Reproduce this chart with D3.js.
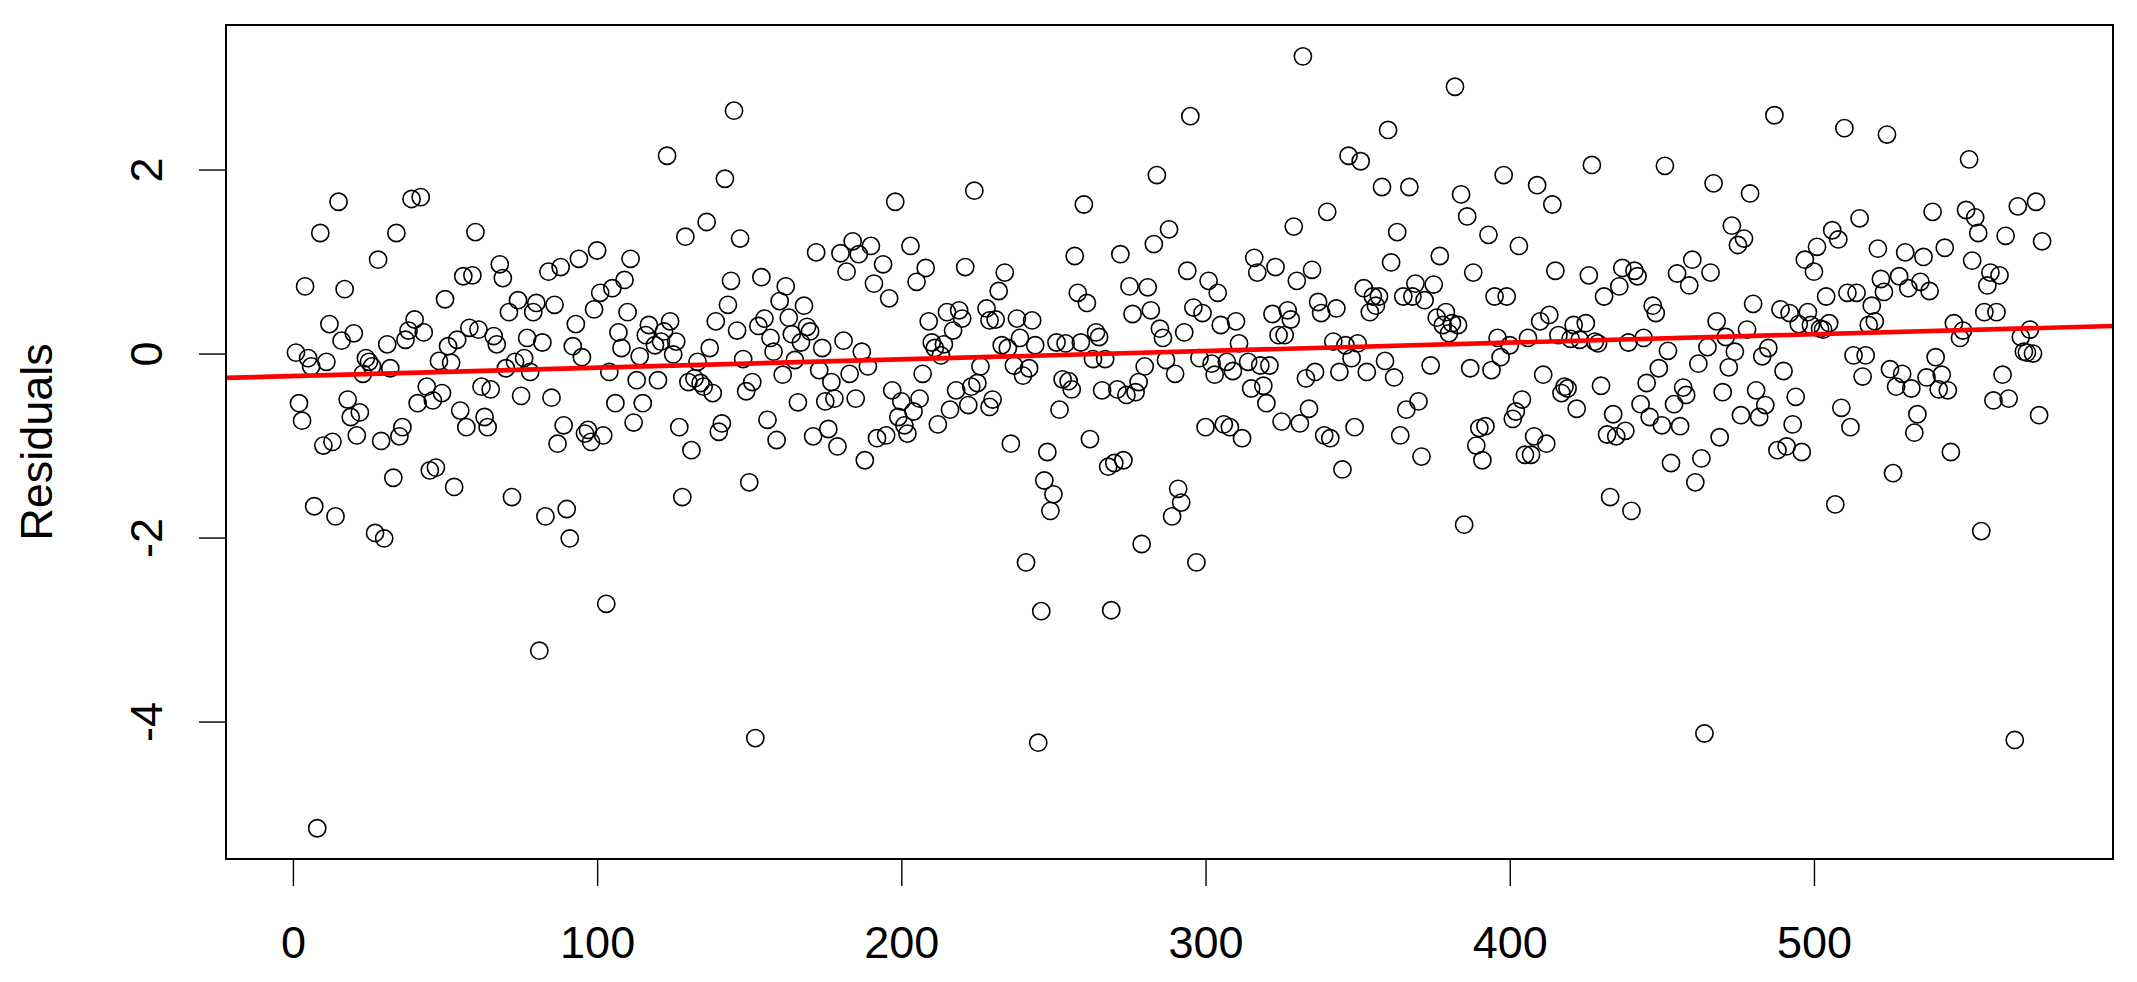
<!DOCTYPE html>
<html>
<head>
<meta charset="utf-8">
<script src="https://cdn.jsdelivr.net/npm/d3@7"></script>
<style>
  body { margin: 0; background: #fff; }
  text { font-family: "Liberation Sans", Arial, sans-serif; fill: #000; }
</style>
</head>
<body>
<div id="chart"></div>
<script>
var obsIndex = [
  1,2,3,4,5,6,7,8,9,10,11,12,13,14,15,16,17,18,19,20,
  21,22,23,24,25,26,27,28,29,30,31,32,33,34,35,36,37,38,39,40,
  41,42,43,44,45,46,47,48,49,50,51,52,53,54,55,56,57,58,59,60,
  61,62,63,64,65,66,67,68,69,70,71,72,73,74,75,76,77,78,79,80,
  81,82,83,84,85,86,87,88,89,90,91,92,93,94,95,96,97,98,99,100,
  101,102,103,104,105,106,107,108,109,110,111,112,113,114,115,116,117,119,120,121,
  122,123,124,125,126,127,128,129,130,131,132,133,134,135,136,137,138,139,140,141,
  142,143,144,145,146,147,148,149,150,151,152,153,154,155,156,157,158,159,160,161,
  162,163,164,165,166,167,168,169,170,171,172,173,174,175,176,177,178,179,180,181,
  182,183,184,185,186,187,188,189,190,191,192,194,195,196,197,198,199,200,201,202,
  203,204,205,206,207,208,209,210,211,212,213,214,215,216,217,218,219,220,221,222,
  223,224,225,226,228,229,229,230,231,232,233,234,235,236,237,238,239,240,241,242,
  243,244,245,246,247,248,249,250,251,252,253,254,255,256,257,258,259,260,261,262,
  263,264,265,266,267,268,269,270,271,272,273,274,275,276,277,278,279,280,281,282,
  283,284,285,286,287,288,289,290,291,292,293,294,295,296,297,298,299,300,301,302,
  303,304,305,306,307,308,309,310,311,312,314,315,316,317,318,319,320,321,322,323,
  324,325,326,327,328,329,330,331,332,333,334,335,336,337,338,339,340,341,342,343,
  344,345,346,347,348,349,350,351,352,353,354,355,356,357,358,359,360,361,362,363,
  364,365,366,367,368,369,370,371,372,374,375,376,377,378,379,380,381,382,383,384,
  385,386,387,388,389,390,391,392,393,394,395,396,397,398,399,400,401,402,403,404,
  405,406,407,408,409,410,411,412,413,414,415,416,417,418,419,420,421,422,423,425,
  426,427,428,429,430,431,432,433,434,435,436,437,438,439,440,441,442,443,444,445,
  446,447,448,449,450,451,452,453,454,455,456,457,458,459,460,461,462,463,464,465,
  466,467,468,469,470,471,472,473,474,475,476,477,478,479,480,481,482,483,484,485,
  487,488,489,490,491,492,493,494,495,496,497,498,499,500,501,502,503,504,505,506,
  507,508,509,510,511,512,513,514,515,516,517,518,519,520,521,522,523,524,525,526,
  527,528,529,530,531,532,533,534,535,536,537,538,539,540,541,542,543,544,545,546,
  548,549,550,551,552,553,554,555,556,557,558,559,560,561,562,563,564,566,567,568,
  569,570,571,572,573,574,575
];
var residuals = [
  0.01,-0.54,-0.73,0.73,-0.05,-0.14,-1.66,-5.16,1.31,-1.00,-0.09,0.32,-0.96,-1.77,1.65,0.14,0.70,-0.50,-0.69,0.22,
  -0.89,-0.64,-0.22,-0.05,-0.09,-0.14,-1.95,1.02,-0.95,-2.01,0.10,-0.16,-1.35,1.31,-0.90,-0.80,0.15,0.25,1.68,0.37,
  -0.54,1.70,0.23,-0.36,-1.27,-0.51,-1.24,-0.08,-0.43,0.59,0.08,-0.10,-1.45,0.15,-0.62,0.84,-0.80,0.28,0.85,1.32,
  0.26,-0.36,-0.69,-0.80,-0.39,0.19,0.10,0.97,0.82,-0.16,0.45,-1.56,-0.09,0.58,-0.46,-0.05,0.17,-0.20,0.45,0.55,
  -3.23,0.12,-1.77,0.89,-0.48,0.53,-0.98,0.94,-0.78,-1.69,-2.01,0.08,0.32,1.03,-0.04,-0.87,-0.83,-0.96,0.48,1.12,
  0.66,-0.89,-2.72,-0.20,0.71,-0.54,0.23,0.06,0.80,0.45,1.03,-0.75,-0.29,-0.03,-0.54,0.20,0.31,0.09,-0.29,0.13,
  0.24,2.15,0.35,-0.01,0.13,-0.80,-1.56,1.27,-0.31,-1.05,-0.27,-0.09,-0.32,-0.36,1.43,0.06,-0.43,0.35,-0.85,-0.76,
  1.90,0.53,0.79,2.64,0.25,1.25,-0.06,-0.41,-1.40,-0.31,-4.18,0.30,0.83,0.38,-0.72,0.17,0.02,-0.94,0.57,-0.23,
  0.73,0.39,0.21,-0.07,-0.53,0.12,0.52,0.29,0.24,-0.90,1.10,-0.18,0.06,-0.52,-0.82,-0.31,-0.49,-1.01,1.09,0.14,
  0.89,-0.22,1.22,-0.49,1.08,0.02,-1.16,-0.14,1.17,0.76,-0.92,0.97,-0.89,0.60,-0.40,1.65,-0.69,-0.52,-0.78,-0.87,
  1.17,-0.63,0.78,-0.49,-0.22,0.93,0.35,0.12,0.06,-0.77,-0.02,0.10,0.45,-0.61,0.25,-0.40,0.47,0.38,0.94,-0.56,
  -0.36,1.77,-0.32,-0.14,0.49,0.36,-0.58,-0.50,0.37,0.68,0.09,0.88,0.06,-0.98,-0.13,0.38,0.17,-0.24,-2.27,-0.16,
  0.36,0.09,-4.23,-2.80,-1.38,-1.07,-1.71,-1.53,0.12,-0.61,-0.28,0.11,-0.30,-0.39,1.06,0.66,0.12,1.62,0.55,-0.93,
  -0.06,0.23,0.18,-0.40,-0.06,-1.23,-2.79,-1.19,-0.39,1.08,-1.16,-0.45,0.73,0.43,-0.42,-0.31,-2.07,-0.14,0.72,0.47,
  1.19,1.94,0.27,0.17,-0.07,1.35,-1.77,-0.22,-1.47,-1.62,0.23,0.90,2.58,0.50,-2.27,-0.05,0.44,-0.80,0.79,-0.11,
  -0.23,0.66,0.31,-0.77,-0.09,-0.80,-0.19,0.35,0.11,-0.92,-0.09,-0.38,1.04,0.88,-0.13,-0.35,-0.54,-0.13,0.43,0.94,
  0.20,-0.74,0.20,0.47,0.37,1.38,0.79,-0.76,3.23,-0.27,-0.60,0.91,-0.20,0.56,0.44,-0.89,1.54,-0.92,0.13,0.49,
  -0.20,-1.26,0.09,2.15,-0.05,-0.80,0.11,2.09,0.71,-0.20,0.45,0.62,0.52,0.62,1.81,-0.08,2.43,0.99,-0.26,1.32,
  -0.89,0.62,-0.61,1.81,0.62,0.76,-0.52,-1.12,0.58,-0.13,0.75,0.39,1.06,0.31,0.45,0.22,0.33,2.90,0.31,1.73,
  -1.86,1.49,-0.16,0.88,-1.00,-0.81,-1.16,-0.79,1.29,-0.18,0.62,0.17,-0.04,1.94,0.62,0.09,-0.71,-0.63,1.17,-0.50,
  -1.10,0.17,-1.10,-0.90,1.83,0.35,-0.23,-0.98,0.42,1.62,0.90,0.20,-0.43,-0.36,-0.38,0.16,0.31,-0.60,0.15,0.33,
  0.85,2.05,0.13,0.11,-0.35,0.62,-0.88,-1.56,-0.66,-0.90,0.73,0.93,-0.84,0.12,-1.71,0.90,0.84,-0.55,0.17,-0.32,
  -0.69,0.52,0.44,-0.16,-0.78,2.04,0.03,-1.19,-0.55,0.87,-0.79,-0.37,-0.45,0.74,1.02,-1.40,-0.11,-1.14,-4.13,0.07,
  0.88,1.85,0.35,-0.91,-0.42,0.18,-0.15,1.39,0.02,1.18,-0.67,1.25,0.26,1.74,0.54,-0.40,-0.69,-0.03,-0.56,0.06,
  2.59,-1.05,0.48,-0.19,-1.01,0.44,-0.77,-0.47,0.32,-1.07,1.02,0.45,0.31,0.89,1.16,0.27,0.26,0.62,0.33,1.34,
  -1.64,1.24,-0.59,2.45,0.66,-0.80,-0.02,0.66,1.47,-0.25,-0.02,0.31,0.52,0.35,1.14,0.81,0.67,2.38,-0.17,-1.30,
  -0.36,0.84,-0.22,1.10,0.71,-0.38,-0.86,-0.66,0.78,1.05,-0.26,0.68,1.54,-0.04,-0.39,-0.23,1.15,-0.40,-1.07,0.33,
  0.17,0.25,1.56,2.11,1.01,1.48,1.31,-1.93,0.45,0.74,0.88,-0.51,0.45,0.85,-0.23,1.28,-0.49,-4.20,1.60,0.18,
  0.02,0.01,0.26,0.00,1.65,-0.67,1.22
];

var xTicks = [0, 100, 200, 300, 400, 500];
var yTicks = [-4, -2, 0, 2];
var xLimits = [-22, 598.3];   // plot region, as R's 4% padding gives
var yLimits = [-5.494, 3.571];
var trendIntercept = -0.245;  // red fitted line
var trendSlope = 0.00091;
var yLabel = "Residuals";

var svgWidth = 2137, svgHeight = 982;
var margin = {top: 25, right: 24, bottom: 123, left: 226};
var width = svgWidth - margin.left - margin.right;
var height = svgHeight - margin.top - margin.bottom;

var svg = d3.select("#chart").append("svg")
    .attr("width", svgWidth)
    .attr("height", svgHeight)
    .style("display", "block");

svg.append("rect")
    .attr("width", svgWidth).attr("height", svgHeight)
    .attr("fill", "#fff");

var chartGroup = svg.append("g")
    .attr("transform", `translate(${margin.left}, ${margin.top})`);

var xScale = d3.scaleLinear().domain(xLimits).range([0, width]);
var yScale = d3.scaleLinear().domain(yLimits).range([height, 0]);

// R prints a plain hyphen for negatives, not the unicode minus d3 uses
var plainNum = d => String(d);

// axes
var xAxis = chartGroup.append("g")
    .attr("transform", `translate(0, ${height})`)
    .call(d3.axisBottom(xScale).tickValues(xTicks).tickSize(27).tickFormat(plainNum));
xAxis.select(".domain").remove();
xAxis.selectAll("line").attr("stroke", "#000").attr("stroke-width", 1.4);
xAxis.selectAll("text")
    .attr("y", 99).attr("dy", 0)
    .attr("font-size", 45)
    .attr("text-anchor", "middle");

var yAxis = chartGroup.append("g")
    .call(d3.axisLeft(yScale).tickValues(yTicks).tickSize(27).tickFormat(plainNum));
yAxis.select(".domain").remove();
yAxis.selectAll("line").attr("stroke", "#000").attr("stroke-width", 1.4);
yAxis.selectAll("text")
    .attr("transform", "rotate(-90)")
    .attr("x", 0).attr("y", -64).attr("dy", 0)
    .attr("font-size", 45)
    .attr("text-anchor", "middle");

// axis title
chartGroup.append("text")
    .attr("transform", `translate(${52 - margin.left}, ${height / 2}) rotate(-90)`)
    .attr("text-anchor", "middle")
    .attr("font-size", 45)
    .text(yLabel);

// points
var pts = obsIndex.map((d, i) => ({x: d, y: residuals[i]}));
chartGroup.selectAll("circle.pt")
    .data(pts)
    .enter()
    .append("circle")
    .attr("class", "pt")
    .attr("cx", d => xScale(d.x))
    .attr("cy", d => yScale(d.y))
    .attr("r", 8.6)
    .attr("fill", "none")
    .attr("stroke", "#000")
    .attr("stroke-width", 1.6);

// fitted line across the whole plot region
var trend = xLimits.map(x => ({x: x, y: trendIntercept + trendSlope * x}));
chartGroup.append("path")
    .datum(trend)
    .attr("d", d3.line().x(d => xScale(d.x)).y(d => yScale(d.y)))
    .attr("stroke", "#ff0000")
    .attr("stroke-width", 4.6)
    .attr("fill", "none");

// plot box
chartGroup.append("rect")
    .attr("width", width).attr("height", height)
    .attr("fill", "none")
    .attr("stroke", "#000")
    .attr("stroke-width", 2);
</script>
</body>
</html>
